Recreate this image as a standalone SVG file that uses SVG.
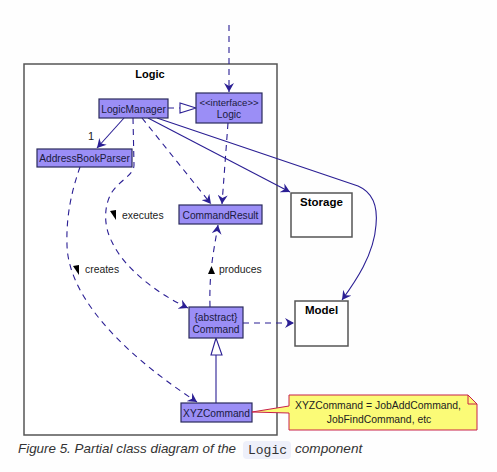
<svg xmlns="http://www.w3.org/2000/svg" width="497" height="472" viewBox="0 0 497 472">
<style>
.cls{fill:#9b8ef6;stroke:#2a2a5c;stroke-width:1.2}
.comp{fill:#fff;stroke:#555;stroke-width:1.5}
.t{font-family:"Liberation Sans",Arial,sans-serif;font-size:10.2px;fill:#1a1a40;text-anchor:middle}
.tb{font-family:"Liberation Sans",Arial,sans-serif;font-size:11.5px;font-weight:bold;fill:#000;text-anchor:middle}
.lbl{font-family:"Liberation Sans",Arial,sans-serif;font-size:10.4px;fill:#222}
.ln{fill:none;stroke:#2b1f94;stroke-width:1.1}
.dash{stroke-dasharray:6,5}
.tri{fill:#000}
</style>
<defs>
<marker id="ah" viewBox="0 0 10 10" refX="9" refY="5" markerWidth="10" markerHeight="10" markerUnits="userSpaceOnUse" orient="auto">
<path d="M0,0 L9,5 L0,10 L3,5 Z" fill="#2b1f94"/>
</marker>
</defs>
<rect x="0" y="0" width="497" height="472" fill="#fefefe"/>
<g id="package-logic">
<rect x="24" y="64" width="253" height="371" fill="#fff" stroke="#555" stroke-width="1.5"/>
<text x="150" y="78" class="tb" style="font-size:11px">Logic</text>
</g>
<g id="connectors">
<path class="ln dash" d="M229,25 L229,92" marker-end="url(#ah)"/>
<path class="ln dash" d="M168,108 L180,108"/>
<polygon points="196,108 180,103 180,113" fill="#fff" stroke="#2b1f94" stroke-width="1.1"/>
<path class="ln" d="M124,118 L97,148" marker-end="url(#ah)"/>
<path class="ln dash" d="M142,118 L211,204" marker-end="url(#ah)"/>
<path class="ln dash" d="M228,123 L222,204" marker-end="url(#ah)"/>
<path class="ln" d="M148,118 L290,192" marker-end="url(#ah)"/>
<path class="ln" d="M157,118 L358,186 C372,192 378,205 376,225 C374,255 355,282 342,300" marker-end="url(#ah)"/>
<path class="ln dash" d="M133,118 L134,165 C134,175 120,180 112,192 C104,205 103,225 112,242 C125,270 160,295 188,308" marker-end="url(#ah)"/>
<path class="ln dash" d="M80,167 C72,190 66,215 67,245 C68,290 110,345 197,402" marker-end="url(#ah)"/>
<path class="ln dash" d="M210,307 C209,270 214,250 218,225" marker-end="url(#ah)"/>
<path class="ln dash" d="M243,323 L294,323" marker-end="url(#ah)"/>
<path class="ln" d="M216,403 L216,355"/>
<polygon points="216,338 211,355 222,355" fill="#fff" stroke="#2b1f94" stroke-width="1.1"/>
<text x="88" y="140" class="lbl" style="font-size:11px">1</text>
<polygon class="tri" points="110,211 116,210 116,220"/>
<text x="122" y="219" class="lbl">executes</text>
<polygon class="tri" points="73,266 79,265 79,275"/>
<text x="85" y="273" class="lbl">creates</text>
<polygon class="tri" points="208,274 211.5,266 215,274"/>
<text x="219" y="273" class="lbl">produces</text>
</g>
<g id="LogicManager">
<rect class="cls" x="99" y="99" width="69" height="19"/>
<text x="133.5" y="112.5" class="t">LogicManager</text>
</g>
<g id="Logic">
<rect class="cls" x="196" y="93" width="66" height="30"/>
<text x="229" y="106" class="t" style="font-size:9.6px">&lt;&lt;interface&gt;&gt;</text>
<text x="229" y="118" class="t">Logic</text>
</g>
<g id="AddressBookParser">
<rect class="cls" x="37" y="149" width="95" height="18"/>
<text x="84.5" y="162" class="t">AddressBookParser</text>
</g>
<g id="CommandResult">
<rect class="cls" x="179" y="205" width="83" height="19"/>
<text x="220.5" y="218.5" class="t">CommandResult</text>
</g>
<g id="Command">
<rect class="cls" x="189" y="307" width="54" height="31"/>
<text x="216" y="321" class="t">{abstract}</text>
<text x="216" y="333" class="t">Command</text>
</g>
<g id="XYZCommand">
<rect class="cls" x="181" y="403" width="71" height="19"/>
<text x="216.5" y="416.5" class="t">XYZCommand</text>
</g>
<g id="Storage">
<rect class="comp" x="291" y="193" width="61" height="44"/>
<text x="321.5" y="206" class="tb">Storage</text>
</g>
<g id="Model">
<rect class="comp" x="295" y="301" width="53" height="45"/>
<text x="321.5" y="314" class="tb">Model</text>
</g>
<g id="note">
<path d="M289,395 L468,395 L477,404 L477,430 L289,430 L289,413 L252,412 L289,406 Z" fill="#fbfb77" stroke="#c8204a" stroke-width="1"/>
<path d="M468,395 L468,404 L477,404" fill="none" stroke="#c8204a" stroke-width="1"/>
<text x="378" y="409" class="t" style="fill:#222;font-size:10.4px">XYZCommand = JobAddCommand,</text>
<text x="379" y="423" class="t" style="fill:#222;font-size:10.4px">JobFindCommand, etc</text>
</g>
<g id="caption">
<text x="18" y="453" font-family="'Liberation Sans',Arial,sans-serif" font-size="13.4" font-style="italic" fill="#333">Figure 5. Partial class diagram of the</text>
<rect x="243" y="441" width="48" height="18" rx="4" fill="#eef0fa"/>
<text x="248" y="454" font-family="'Liberation Mono','DejaVu Sans Mono',monospace" font-size="13" fill="#333">Logic</text>
<text x="295" y="453" font-family="'Liberation Sans',Arial,sans-serif" font-size="13.6" font-style="italic" fill="#333">component</text>
</g>
</svg>
